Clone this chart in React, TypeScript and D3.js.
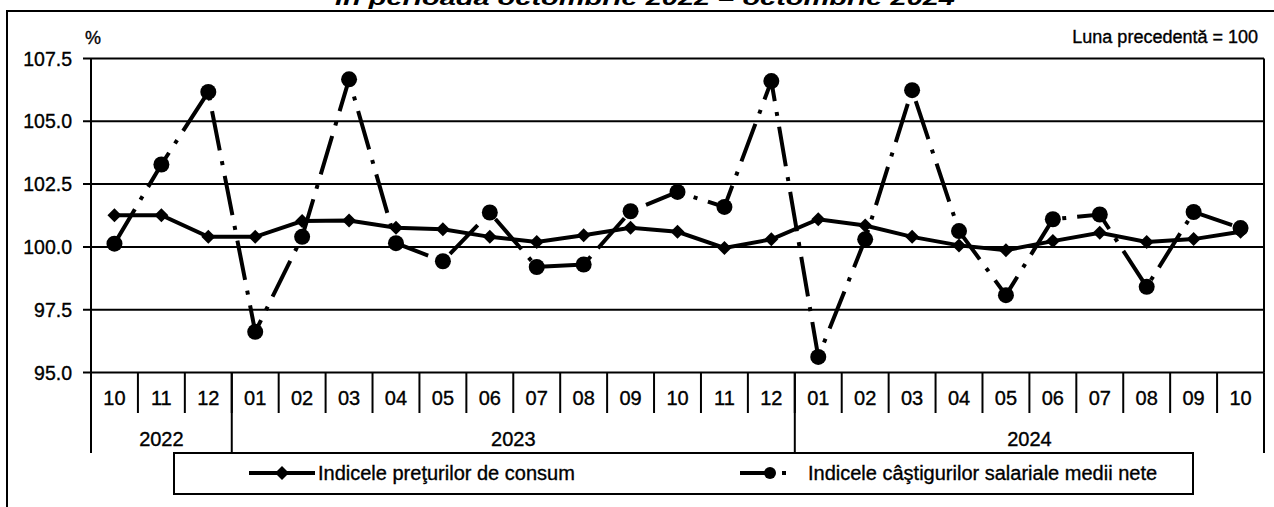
import React from 'react';
import * as d3 from 'd3';

const months = ['10', '11', '12', '01', '02', '03', '04', '05', '06', '07', '08', '09', '10', '11', '12', '01', '02', '03', '04', '05', '06', '07', '08', '09', '10'];
const years = ['2022', '2023', '2024'];
const monthsPerYear = [3, 12, 10];

const cpi = [101.26, 101.26, 100.4, 100.4, 101.03, 101.05, 100.76, 100.7, 100.4, 100.2, 100.46, 100.76, 100.6, 99.96, 100.3, 101.1, 100.85, 100.4, 100.06, 99.87, 100.23, 100.56, 100.2, 100.31, 100.6];
const wages = [100.13, 103.28, 106.17, 96.62, 100.4, 106.67, 100.15, 99.43, 101.37, 99.2, 99.3, 101.42, 102.19, 101.59, 106.6, 95.62, 100.3, 106.24, 100.63, 98.08, 101.1, 101.29, 98.41, 101.39, 100.75];

const yTicks = [95, 97.5, 100, 102.5, 105, 107.5];

const seriesNames = ['Indicele preţurilor de consum', 'Indicele câştigurilor salariale medii nete'];

const width = 1274;
const height = 507;
const font = '"Liberation Sans", Arial, sans-serif';

const App = () => {
  const x = d3
    .scaleBand<number>()
    .domain(months.map((_, i) => i))
    .range([91, 1264])
    .padding(0);
  const y = d3.scaleLinear().domain([95, 107.5]).range([372.5, 58.5]);
  const cx = (i: number) => (x(i) as number) + x.bandwidth() / 2;

  const line = d3
    .line<number>()
    .x((_, i) => cx(i))
    .y((d) => y(d));

  const diamond = 'M0,-7L7,0L0,7L-7,0Z';
  const fmt = d3.format('.1f');

  // year group boundaries
  let acc = 0;
  const groups = monthsPerYear.map((n, k) => {
    const start = acc;
    acc += n;
    return { label: years[k], start, end: acc };
  });

  const axisY = y(95);
  // scanned text looks a little heavier than plain regular
  const ink = { stroke: '#000', strokeWidth: 0.35 };

  return (
    <div style={{ position: 'absolute', left: 0, top: 0 }}>
      <svg width={width} height={height} style={{ display: 'block', background: '#fff' }} fontFamily={font}>
        {/* title, cut by the top edge as in the scan */}
        <text x={645} y={5} textAnchor='middle' fontSize={20} fontWeight='bold' fontStyle='italic' textLength={620} lengthAdjust='spacingAndGlyphs'>
          în perioada octombrie 2022 – octombrie 2024
        </text>

        {/* outer frame */}
        <path d={`M7,${height}V11H${width}`} fill='none' stroke='#000' strokeWidth={2} />

        <text x={85} y={44} fontSize={18} {...ink}>%</text>
        <text x={1258} y={43} fontSize={18} textAnchor='end' {...ink}>Luna precedentă = 100</text>

        {/* gridlines and y labels */}
        {yTicks.map((t) => (
          <g key={t}>
            <line x1={83} x2={1264} y1={y(t)} y2={y(t)} stroke='#000' strokeWidth={2} />
            <text x={72} y={y(t) + 7} fontSize={19.5} textAnchor='end' {...ink}>{fmt(t)}</text>
          </g>
        ))}
        <line x1={91} x2={91} y1={y(107.5)} y2={axisY} stroke='#000' strokeWidth={2} />
        <line x1={1264} x2={1264} y1={y(107.5)} y2={axisY} stroke='#000' strokeWidth={2} />

        {/* category axis */}
        {months.map((m, i) => (
          <g key={i}>
            <line x1={(x(i) as number) + x.bandwidth()} x2={(x(i) as number) + x.bandwidth()} y1={axisY} y2={413} stroke='#000' strokeWidth={2} />
            <text x={cx(i)} y={405} fontSize={20} textAnchor='middle' {...ink}>{m}</text>
          </g>
        ))}
        {groups.map((g) => (
          <g key={g.label}>
            <line x1={x(g.start) as number} x2={x(g.start) as number} y1={axisY} y2={453} stroke='#000' strokeWidth={2} />
            <text x={((x(g.start) as number) + (x(g.end - 1) as number) + x.bandwidth()) / 2} y={446} fontSize={20} textAnchor='middle' {...ink}>{g.label}</text>
          </g>
        ))}
        <line x1={1264} x2={1264} y1={axisY} y2={453} stroke='#000' strokeWidth={2} />

        {/* wages series: dash-dot with circles */}
        <path d={line(wages) || ''} fill='none' stroke='#000' strokeWidth={4} strokeDasharray='40 11 4 11' />
        {wages.map((v, i) => (
          <circle key={i} cx={cx(i)} cy={y(v)} r={8} fill='#000' />
        ))}

        {/* CPI series: solid with diamonds */}
        <path d={line(cpi) || ''} fill='none' stroke='#000' strokeWidth={4} />
        {cpi.map((v, i) => (
          <path key={i} d={diamond} transform={`translate(${cx(i)},${y(v)})`} fill='#000' />
        ))}

        {/* legend */}
        <rect x={174} y={453} width={1019} height={41} fill='#fff' stroke='#000' strokeWidth={2} />
        <line x1={249} x2={315} y1={473} y2={473} stroke='#000' strokeWidth={4} />
        <path d={diamond} transform='translate(282,473)' fill='#000' />
        <text x={318} y={480} fontSize={20} {...ink}>{seriesNames[0]}</text>
        <line x1={740} x2={800} y1={473} y2={473} stroke='#000' strokeWidth={4} strokeDasharray='30 12 4 20' />
        <circle cx={770} cy={473} r={6} fill='#000' />
        <text x={808} y={480} fontSize={20} {...ink}>{seriesNames[1]}</text>
      </svg>
    </div>
  );
};

export default App;
